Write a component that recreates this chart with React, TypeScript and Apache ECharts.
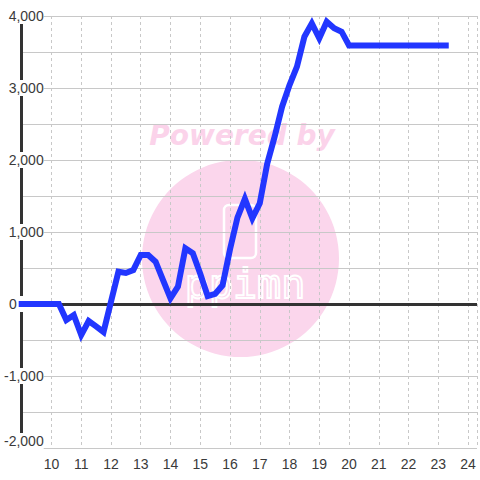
import React, { useEffect, useRef } from "react";
import * as echarts from "echarts";

const hours: number[] = [
  9, 9.25, 9.5, 9.75, 10, 10.25, 10.5, 10.75, 11, 11.25, 11.5, 11.75, 12,
  12.25, 12.5, 12.75, 13, 13.25, 13.5, 13.75, 14, 14.25, 14.5, 14.75, 15,
  15.25, 15.5, 15.75, 16, 16.25, 16.5, 16.75, 17, 17.25, 17.5, 17.75, 18,
  18.25, 18.5, 18.75, 19, 19.25, 19.5, 19.75, 20, 23.25,
];
const values: number[] = [
  0, 0, 0, 0, 0, 0, -222, -153, -431, -236, -310, -389, 30,
  449, 431, 472, 681, 681, 588, 333, 79, 240, 773, 704, 420,
  110, 140, 260, 760, 1200, 1460, 1190, 1400, 1950, 2324, 2740, 3040,
  3296, 3713, 3898, 3690, 3921, 3829, 3782, 3590, 3590,
];
const yMin = -2000;
const yMax = 4000;
const xMin = 9;
const xMax = 24.3;
const watermarkTitle = "Powered by";
const watermarkLogo = "ppimn";

export default function App() {
  const ref = useRef<HTMLDivElement>(null);
  useEffect(() => {
    document.body.style.margin = "0";
    const chart = echarts.init(ref.current!, null, { renderer: "svg" });
    const labelColor = "#3a3a3a";
    const font = "'Liberation Sans', Arial, sans-serif";
    chart.setOption({
      animation: false,
      backgroundColor: "#ffffff",
      grid: { left: 21, right: 0, top: 16, bottom: 32, containLabel: false },
      graphic: [
        {
          type: "circle",
          z: -10,
          shape: { cx: 240.5, cy: 258.5, r: 98.5 },
          style: { fill: "#fbd6ec" },
          silent: true,
        },
        {
          type: "text",
          z: -10,
          x: 242,
          y: 135,
          silent: true,
          style: {
            text: watermarkTitle,
            fill: "#fbd3ea",
            font: "italic bold 28px 'DejaVu Sans', sans-serif",
            align: "center",
            verticalAlign: "middle",
          },
        },
        {
          type: "rect",
          z: -9,
          silent: true,
          shape: { x: 224, y: 205, width: 32, height: 53, r: 5 },
          style: { fill: "none", stroke: "#ffffff", lineWidth: 2.5 },
        },
        {
          type: "text",
          z: -9,
          x: 245,
          y: 284,
          silent: true,
          style: {
            text: watermarkLogo,
            fill: "none",
            stroke: "#ffffff",
            lineWidth: 2,
            font: "40px 'DejaVu Sans Mono', monospace",
            align: "center",
            verticalAlign: "middle",
          },
        },
      ],
      xAxis: {
        type: "value",
        min: xMin,
        max: xMax,
        interval: 1,
        axisLine: { show: false },
        axisTick: { show: false },
        axisLabel: {
          color: labelColor,
          fontSize: 14,
          fontFamily: font,
          margin: 9,
          formatter: (v: number) =>
            Number.isInteger(v) && v > xMin ? String(v) : "",
        },
        splitLine: {
          show: true,
          lineStyle: { color: "#c8c8c8", type: [3, 3], width: 1 },
        },
      },
      yAxis: {
        type: "value",
        min: yMin,
        max: yMax,
        interval: 1000,
        axisLine: {
          show: true,
          onZero: false,
          lineStyle: { color: "#333333", width: 3 },
        },
        axisTick: { show: false },
        minorTick: { show: false, splitNumber: 2 },
        minorSplitLine: {
          show: true,
          lineStyle: { color: "#c8c8c8", width: 1 },
        },
        splitLine: { show: true, lineStyle: { color: "#c8c8c8", width: 1 } },
        axisLabel: {
          color: labelColor,
          fontSize: 14,
          fontFamily: font,
          align: "right",
          margin: -22,
          backgroundColor: "#ffffff",
          padding: [1, 0, 1, 1],
          formatter: (v: number) => {
            if (v === 0) return "{z|0}";
            if (v === yMin) return "{b|" + v.toLocaleString("en-US") + "}";
            return v.toLocaleString("en-US");
          },
          rich: {
            z: {
              color: labelColor,
              fontSize: 14,
              fontFamily: font,
              padding: [0, 27, 0, 0],
            },
            b: {
              color: labelColor,
              fontSize: 14,
              fontFamily: font,
              padding: [0, 0, 14, 0],
            },
          },
        },
      },
      series: [
        {
          type: "line",
          data: hours.map((h, i) => [h, values[i]]),
          showSymbol: false,
          symbol: "none",
          lineStyle: { color: "#2236ff", width: 6, cap: "square", join: "miter" },
          z: 3,
          markLine: {
            silent: true,
            symbol: "none",
            label: { show: false },
            lineStyle: { color: "#333333", width: 3, type: "solid" },
            data: [{ yAxis: 0 }],
            z: 2,
          },
        },
      ],
    });
    return () => chart.dispose();
  }, []);
  return (
    <div
      ref={ref}
      style={{ position: "absolute", left: 0, top: 0, width: 480, height: 480 }}
    />
  );
}
